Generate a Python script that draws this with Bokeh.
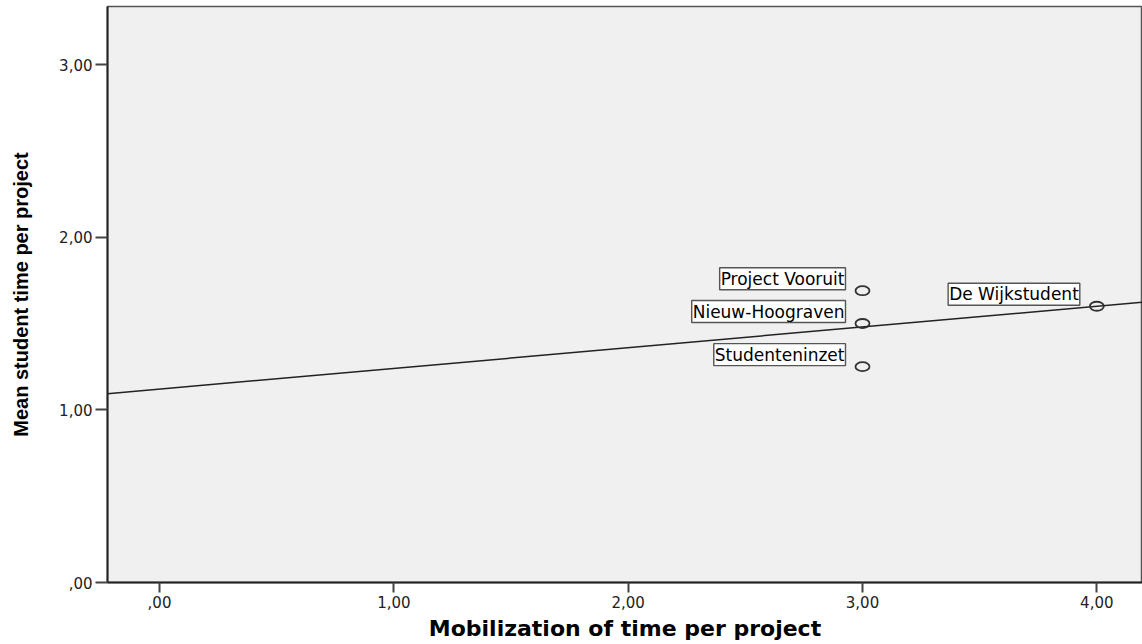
import numpy as np
from bokeh.plotting import figure
from bokeh.models import Range1d, FixedTicker, ColumnDataSource
from bokeh.core.properties import value
from bokeh.embed import file_html
from bokeh.resources import INLINE

# Projects: mobilization of time (x) vs mean student time (y)
projects = ["Project Vooruit", "Nieuw-Hoograven", "Studenteninzet", "De Wijkstudent"]
mobilization = [3.0, 3.0, 3.0, 4.0]
mean_time = [1.69, 1.50, 1.25, 1.60]

x_ticks = [0, 1, 2, 3, 4]
x_tick_labels = [",00", "1,00", "2,00", "3,00", "4,00"]
y_ticks = [0, 1, 2, 3]
y_tick_labels = [",00", "1,00", "2,00", "3,00"]

x_start, x_end = -0.222, 4.195
y_start, y_end = 0.0, 3.336

src = ColumnDataSource(dict(x=mobilization, y=mean_time, name=projects))

p = figure(width=1142, height=644, output_backend="svg", toolbar_location=None,
           x_range=Range1d(x_start, x_end), y_range=Range1d(y_start, y_end),
           min_border_left=107, min_border_right=0, min_border_top=6,
           min_border_bottom=62)
p.background_fill_color = "#f0f0f0"
p.border_fill_color = "white"
p.outline_line_color = "#555555"
p.outline_line_width = 1.5
p.xgrid.visible = False
p.ygrid.visible = False

# Linear fit through the project points
slope, intercept = np.polyfit(mobilization, mean_time, 1)
p.line([x_start, x_end], [intercept + slope * x_start, intercept + slope * x_end],
       line_color="#222222", line_width=1.5)

p.ellipse(x="x", y="y", width=14, height=9, width_units="screen", height_units="screen",
          fill_color=None, line_color="#333333", line_width=1.8, source=src)

p.text(x="x", y="y", text="name", source=src,
       text_font=value("DejaVu Sans"), text_font_size="17px", text_color="#000000",
       text_align="right", text_baseline="middle", x_offset=-17, y_offset=-12,
       background_fill_color="white", border_line_color="#555555", border_line_width=1.4,
       padding=1)

for ax, ticks, labels in ((p.xaxis[0], x_ticks, x_tick_labels), (p.yaxis[0], y_ticks, y_tick_labels)):
    ax.ticker = FixedTicker(ticks=ticks)
    ax.major_label_overrides = {t: l for t, l in zip(ticks, labels)}
    ax.minor_tick_line_color = None
    ax.major_tick_in = 0
    ax.axis_line_color = "#222222"
    ax.axis_line_width = 2
    ax.major_tick_line_color = "#444444"
    ax.major_tick_line_width = 2
    ax.major_label_text_font = "DejaVu Sans"
    ax.major_label_text_font_size = "15px"
    ax.major_label_text_color = "#222222"
    ax.major_label_standoff = 3
    ax.axis_label_text_color = "#000000"
    ax.axis_label_text_font_style = "bold"

p.xaxis.major_tick_out = 10
p.yaxis.major_tick_out = 12

p.xaxis.axis_label = "Mobilization of time per project"
p.xaxis.axis_label_text_font = "DejaVu Sans"
p.xaxis.axis_label_text_font_size = "22px"
p.xaxis.axis_label_standoff = 5

p.yaxis.axis_label = "Mean student time per project"
p.yaxis.axis_label_text_font = "Liberation Sans"
p.yaxis.axis_label_text_font_size = "20px"
p.yaxis.axis_label_standoff = 24

open("out.html", "w").write(file_html(p, INLINE))
